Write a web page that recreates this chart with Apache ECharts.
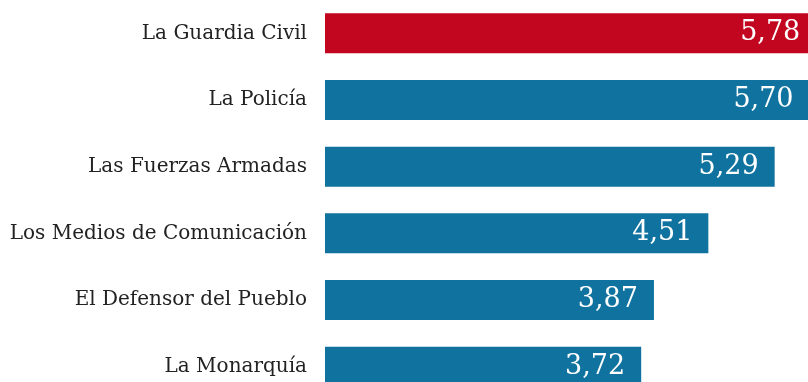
<!DOCTYPE html>
<html><head><meta charset="utf-8">
<script src="https://cdn.jsdelivr.net/npm/echarts@6/dist/echarts.min.js"></script>
<style>html,body{margin:0;padding:0;background:#fff;overflow:hidden}#c{width:835px;height:400px}</style>
</head><body><div id="c"></div>
<script>
const categories = ["La Guardia Civil","La Policía","Las Fuerzas Armadas","Los Medios de Comunicación","El Defensor del Pueblo","La Monarquía"];
const values = [5.78, 5.70, 5.29, 4.51, 3.87, 3.72];
const highlightIndex = 0;
const chart = echarts.init(document.getElementById('c'), null, {renderer:'canvas'});
chart.setOption({
  backgroundColor:'#ffffff',
  animation:false,
  grid:{left:325, top:0, width:510, height:400, containLabel:false},
  xAxis:{type:'value', min:0, max:6, show:false},
  yAxis:{type:'category', data:categories, inverse:true,
    axisLine:{show:false}, axisTick:{show:false}, splitLine:{show:false},
    axisLabel:{fontFamily:'DejaVu Serif', fontSize:20, color:'#222222', margin:18}},
  series:[{type:'bar', barWidth:40,
    data: values.map((v,i)=>({value:v, itemStyle:{color: i===highlightIndex ? '#c2061f' : '#10729e'}})),
    label:{show:true, position:'insideRight', distance:16, fontFamily:'DejaVu Serif', fontSize:27, color:'#ffffff',
      formatter:p=>p.value.toFixed(2).replace('.',',')}
  }]
});
</script></body></html>
